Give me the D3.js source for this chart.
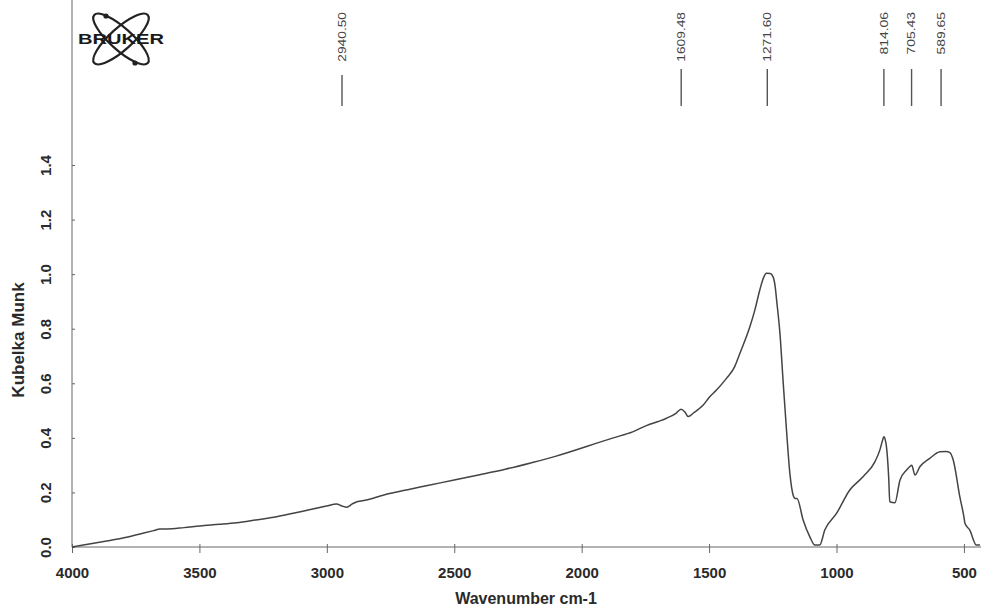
<!DOCTYPE html>
<html>
<head>
<meta charset="utf-8">
<script src="https://cdn.jsdelivr.net/npm/d3@7"></script>
<style>
  html, body { margin: 0; padding: 0; background: #fff; }
  svg { display: block; font-family: "Liberation Sans", Arial, sans-serif; }
</style>
</head>
<body>
<svg id="chart" width="981" height="610"></svg>
<script>
// ---- data ----
const wavenumbers = [4000,3950,3864,3800,3733,3680,3655,3628,3560,3498,3420,3354,3280,3197,3132,3060,3001,2962,2940,2922,2900,2882,2844,2779,2674,2600,2505,2400,2300,2200,2100,2008,1950,1876,1800,1746,1700,1667,1630,1610,1595,1582,1560,1523,1500,1471,1432,1400,1379,1340,1320,1301,1285,1275,1260,1249,1240,1235,1222,1209,1196,1183,1170,1162,1155,1131,1105,1085,1066,1046,1000,948,895,849,830,818,814,808,804,795,791,771,751,725,712,705,692,673,634,594,570,555,542,516,500,496,477,451,437];
const kmValues = [0.0,0.008,0.022,0.033,0.048,0.06,0.066,0.066,0.071,0.077,0.083,0.089,0.099,0.111,0.124,0.138,0.150,0.158,0.150,0.146,0.158,0.166,0.172,0.190,0.212,0.226,0.245,0.265,0.285,0.308,0.333,0.360,0.378,0.400,0.422,0.445,0.460,0.472,0.49,0.505,0.495,0.478,0.492,0.52,0.548,0.575,0.618,0.66,0.71,0.807,0.87,0.942,0.99,1.003,1.002,0.99,0.95,0.905,0.783,0.60,0.425,0.27,0.19,0.178,0.178,0.099,0.038,0.007,0.007,0.062,0.123,0.209,0.258,0.313,0.355,0.395,0.404,0.39,0.368,0.25,0.166,0.162,0.245,0.282,0.295,0.300,0.264,0.294,0.325,0.349,0.350,0.346,0.319,0.184,0.11,0.087,0.062,0.007,0.007];
const peakPositions = [2940.50, 1609.48, 1271.60, 814.06, 705.43, 589.65];
const peakLabels = ["2940.50", "1609.48", "1271.60", "814.06", "705.43", "589.65"];
const xTicks = [4000, 3500, 3000, 2500, 2000, 1500, 1000, 500];
const yTicks = [0.0, 0.2, 0.4, 0.6, 0.8, 1.0, 1.2, 1.4];
const xTitle = "Wavenumber cm-1";
const yTitle = "Kubelka Munk";

// ---- layout ----
const svg = d3.select("#chart");
const x = d3.scaleLinear().domain([4000, 433]).range([72, 981]);
const y = d3.scaleLinear().domain([0, 1.4]).range([547, 165]);

const axisColor = "#666";
const textColor = "#2a2a2a";

// x axis
const xAxis = svg.append("g").attr("transform", "translate(0,547)")
  .call(d3.axisBottom(x).tickValues(xTicks).tickFormat(d3.format("d")).tickSize(6).tickPadding(14));
xAxis.select(".domain").attr("stroke", axisColor).attr("d", "M72,0H981");
xAxis.selectAll(".tick line").attr("stroke", axisColor).attr("y1", -3);
xAxis.selectAll(".tick text").attr("fill", textColor).attr("font-size", 15).attr("font-weight", "bold");

// y axis
const yAxis = svg.append("g").attr("transform", "translate(72,0)")
  .call(d3.axisLeft(y).tickValues(yTicks).tickFormat(d3.format(".1f")).tickSize(4));
yAxis.select(".domain").attr("stroke", axisColor).attr("d", "M0,0V547");
yAxis.selectAll(".tick line").attr("stroke", axisColor).attr("x2", 3);
yAxis.selectAll(".tick text")
  .attr("fill", textColor).attr("font-size", 15).attr("font-weight", "bold")
  .attr("x", null).attr("dy", null)
  .attr("text-anchor", "middle")
  .attr("transform", "translate(-26,0) rotate(-90)")
  .attr("y", 0).attr("dy", "0.35em");

// axis titles
svg.append("text").attr("x", 526).attr("y", 604)
  .attr("text-anchor", "middle").attr("font-size", 16).attr("font-weight", "bold")
  .attr("fill", textColor).text(xTitle);
svg.append("text").attr("transform", "translate(18,340) rotate(-90)")
  .attr("text-anchor", "middle").attr("dy", "0.35em").attr("font-size", 17).attr("font-weight", "bold")
  .attr("fill", textColor).text(yTitle);

// spectrum line
const pts = wavenumbers.map((w, i) => [w, kmValues[i]]);
svg.append("path").datum(pts)
  .attr("fill", "none").attr("stroke", "#444").attr("stroke-width", 1.5)
  .attr("d", d3.line().x(d => x(d[0])).y(d => y(d[1])).curve(d3.curveMonotoneX));

// peak annotations
const peaks = svg.append("g");
peakPositions.forEach((p, i) => {
  const px = x(p);
  peaks.append("line").attr("x1", px).attr("x2", px)
    .attr("y1", i === 0 ? 75 : 69).attr("y2", 106)
    .attr("stroke", "#555").attr("stroke-width", 1.4);
  peaks.append("text").attr("transform", `translate(${px},12) rotate(-90)`)
    .attr("text-anchor", "end").attr("dy", "0.35em")
    .attr("font-size", 11).attr("fill", "#444")
    .attr("textLength", peakLabels[i].length * 7.1).attr("lengthAdjust", "spacingAndGlyphs")
    .text(peakLabels[i]);
});

// Bruker logo
const logo = svg.append("g").attr("transform", "translate(121,39)");
[-42, 42].forEach(a => {
  logo.append("ellipse").attr("rx", 36).attr("ry", 11)
    .attr("transform", `rotate(${a})`)
    .attr("fill", "none").attr("stroke", "#222").attr("stroke-width", 2.2);
});
logo.append("circle").attr("cx", -15).attr("cy", -23).attr("r", 2.6).attr("fill", "#222");
logo.append("circle").attr("cx", 14).attr("cy", 24).attr("r", 2.6).attr("fill", "#222");
logo.append("text").attr("x", 0).attr("y", 5).attr("text-anchor", "middle")
  .attr("font-size", 14).attr("font-weight", "bold").attr("fill", "#1a1a1a")
  .attr("textLength", 86).attr("lengthAdjust", "spacingAndGlyphs")
  .text("BRUKER");
</script>
</body>
</html>
